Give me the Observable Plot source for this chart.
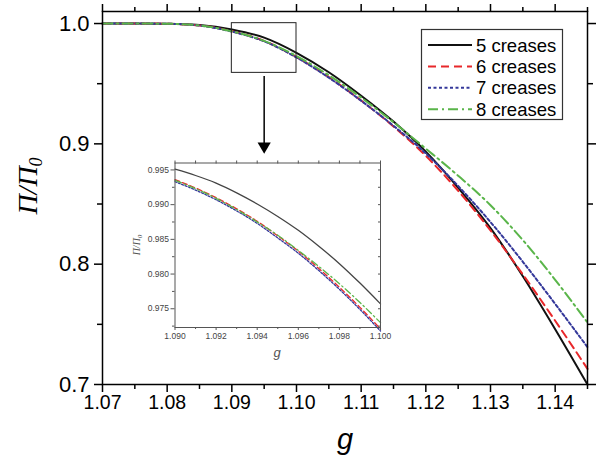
<!DOCTYPE html>
<html><head><meta charset="utf-8">
<script src="https://cdn.jsdelivr.net/npm/d3@7"></script>
<script src="https://cdn.jsdelivr.net/npm/@observablehq/plot@0.6"></script>
<style>
body{margin:0;background:#fff}
#wrap{position:relative;width:602px;height:463px;overflow:hidden}
#wrap svg{position:absolute;left:0;top:0;background:transparent}
</style></head><body><div id="wrap"></div>
<script>
// ---- data ----
const seriesNames = ["5 creases", "6 creases", "7 creases", "8 creases"];
const gMain = [1.070, 1.075, 1.080, 1.085, 1.090, 1.095, 1.100, 1.105, 1.110, 1.115, 1.120, 1.125, 1.130, 1.135, 1.140, 1.145];
const main5 = [1.0, 1.0, 0.9999, 0.9988, 0.9951, 0.9883, 0.9757, 0.9595, 0.9400, 0.9185, 0.8935, 0.8635, 0.8300, 0.7900, 0.7460, 0.7000];
const main6 = [1.0, 1.0, 0.9998, 0.9984, 0.9936, 0.9855, 0.9721, 0.9555, 0.9360, 0.9145, 0.8900, 0.8610, 0.8280, 0.7915, 0.7530, 0.7130];
const main7 = [1.0, 1.0, 0.9998, 0.9983, 0.9933, 0.9852, 0.9718, 0.9550, 0.9358, 0.9150, 0.8920, 0.8650, 0.8350, 0.8020, 0.7670, 0.7310];
const main8 = [1.0, 1.0, 0.9998, 0.9984, 0.9935, 0.9856, 0.9730, 0.9570, 0.9385, 0.9180, 0.8960, 0.8735, 0.8490, 0.8200, 0.7870, 0.7515];

const gInset = [1.090, 1.091, 1.092, 1.093, 1.094, 1.095, 1.096, 1.097, 1.098, 1.099, 1.100];
const ins5 = [0.9951, 0.9942, 0.9931, 0.9917, 0.9901, 0.9883, 0.9863, 0.9840, 0.9815, 0.9787, 0.9757];
const ins6 = [0.9936, 0.9924, 0.9910, 0.9894, 0.9876, 0.9855, 0.9833, 0.9808, 0.9781, 0.9752, 0.9721];
const ins7 = [0.9933, 0.9921, 0.9907, 0.9891, 0.9873, 0.9852, 0.9830, 0.9805, 0.9778, 0.9749, 0.9718];
const ins8 = [0.9935, 0.9923, 0.9909, 0.9893, 0.9875, 0.9856, 0.9834, 0.9811, 0.9786, 0.9759, 0.9730];

const xTicks = [1.07, 1.08, 1.09, 1.10, 1.11, 1.12, 1.13, 1.14];
const xMinor = [1.075, 1.085, 1.095, 1.105, 1.115, 1.125, 1.135, 1.145];
const yTicks = [0.7, 0.8, 0.9, 1.0];
const yMinor = [0.75, 0.85, 0.95];
const insXTicks = [1.090, 1.092, 1.094, 1.096, 1.098, 1.100];
const insXMinor = [1.091, 1.093, 1.095, 1.097, 1.099];
const insYTicks = [0.975, 0.980, 0.985, 0.990, 0.995];
const insYMinor = [0.9725, 0.9775, 0.9825, 0.9875, 0.9925];

const zoomBox = [{x1: 1.09, x2: 1.10, y1: 0.959, y2: 1.0003}];
const arrowSpec = [{x: 1.095, y1: 0.951, y2: 0.8918}];

const xTitle = "g";
const yTitleMain = "Π/Π";
const yTitleSub = "0";

// ---- styles ----
const colors = ["#111111", "#e8282b", "#34389a", "#5ab54a"];
const dashes = [null, "8,5", "3,2.5", "10,4,2,4"];
const insDashes = [null, "5,3", "2,1.6", "7,3,1.5,3"];

const mainVals = [main5, main6, main7, main8];
const insVals = [ins5, ins6, ins7, ins8];
const mainRows = seriesNames.map((s, i) => gMain.map((g, j) => ({g, v: mainVals[i][j], s})));
const insRows = seriesNames.map((s, i) => gInset.map((g, j) => ({g, v: insVals[i][j], s})));

const font = "'Liberation Sans', Arial, sans-serif";
const wrap = document.getElementById("wrap");

const main = Plot.plot({
  width: 602, height: 463,
  marginLeft: 102, marginRight: 15, marginTop: 11, marginBottom: 79,
  style: {fontFamily: font, background: "transparent", color: "#000", overflow: "visible"},
  x: {domain: [1.07, 1.145]},
  y: {domain: [0.7, 1.01]},
  marks: [
    ...mainRows.map((rows, i) => Plot.line(rows, {x: "g", y: "v", stroke: colors[i], strokeWidth: 2, strokeDasharray: dashes[i], curve: "monotone-x"})),
    Plot.rect(zoomBox, {x1: "x1", x2: "x2", y1: "y1", y2: "y2", fill: "none", stroke: "#222", strokeWidth: 1}),
    Plot.ruleX(arrowSpec, {x: "x", y1: "y1", y2: "y2", stroke: "#000", strokeWidth: 1.5, dy: -6}),
    Plot.dot(arrowSpec, {x: "x", y: "y2", symbol: "triangle", r: 4.9, rotate: 180, fill: "#000", stroke: "none", dy: -7.5}),
    Plot.frame({stroke: "#000", strokeWidth: 1.5}),
    Plot.axisX(xTicks, {tickSize: 8, tickPadding: 3, tickFormat: d3.format(".2f"), fontSize: 19.5, label: null, strokeWidth: 1.5}),
    Plot.axisX(xMinor, {tickSize: 5, tickFormat: () => "", label: null, strokeWidth: 1.5}),
    Plot.axisX(xTicks, {anchor: "top", tickSize: 8, tickFormat: () => "", label: null, strokeWidth: 1.5}),
    Plot.axisX(xMinor, {anchor: "top", tickSize: 5, tickFormat: () => "", label: null, strokeWidth: 1.5}),
    Plot.axisY(yTicks, {tickSize: 8, tickFormat: () => "", label: null, strokeWidth: 1.5}),
    Plot.text(yTicks, {y: d => d, frameAnchor: "left", dx: -13, textAnchor: "end", text: d3.format(".1f"), fontSize: 22, fill: "#000"}),
    Plot.axisY(yMinor, {tickSize: 5, tickFormat: () => "", label: null, strokeWidth: 1.5}),
    Plot.axisY(yTicks, {anchor: "right", tickSize: 8, tickFormat: () => "", label: null, strokeWidth: 1.5}),
    Plot.axisY(yMinor, {anchor: "right", tickSize: 5, tickFormat: () => "", label: null, strokeWidth: 1.5})
  ]
});
wrap.appendChild(main);

const svg = d3.select(main);
// axis titles
svg.append("text").attr("x", 345).attr("y", 449).attr("text-anchor", "middle")
  .attr("font-family", font).attr("font-style", "italic").attr("font-size", 29).attr("fill", "#000").text(xTitle);
const yt = svg.append("text").attr("transform", "translate(37,186) rotate(-90)").attr("text-anchor", "middle")
  .attr("font-family", "'Liberation Serif', 'Times New Roman', serif").attr("font-style", "italic").attr("font-size", 28).attr("fill", "#000");
yt.append("tspan").text(yTitleMain);
yt.append("tspan").attr("font-size", 18).attr("dy", 5).text(yTitleSub);

// legend
const lg = svg.append("g").attr("font-family", font).attr("text-anchor", "start");
lg.append("rect").attr("x", 421.5).attr("y", 29.5).attr("width", 141).attr("height", 90)
  .attr("fill", "#fff").attr("stroke", "#333").attr("stroke-width", 1.2);
seriesNames.forEach((name, i) => {
  const cy = 45 + i * 21.4;
  lg.append("line").attr("x1", 428).attr("x2", 472).attr("y1", cy).attr("y2", cy)
    .attr("stroke", colors[i]).attr("stroke-width", 2).attr("stroke-dasharray", dashes[i]);
  lg.append("text").attr("x", 476).attr("y", cy).attr("dy", "0.36em").attr("text-anchor", "start")
    .attr("font-size", 18.5).attr("fill", "#000").text(name);
});

// ---- inset ----
const inset = Plot.plot({
  width: 270, height: 215,
  marginLeft: 54.5, marginRight: 10, marginTop: 12.5, marginBottom: 38,
  style: {fontFamily: font, background: "transparent", color: "#444", overflow: "visible"},
  x: {domain: [1.090, 1.100]},
  y: {domain: [0.9723, 0.9960]},
  marks: [
    Plot.frame({fill: "#fff", stroke: "none"}),
    ...insRows.map((rows, i) => Plot.line(rows, {x: "g", y: "v", stroke: i === 0 ? "#444" : colors[i], strokeWidth: 1.3, strokeDasharray: insDashes[i], curve: "monotone-x"})),
    Plot.frame({stroke: "#555", strokeWidth: 1}),
    Plot.axisX(insXTicks, {tickSize: 3, tickPadding: 2, tickFormat: d3.format(".3f"), fontSize: 8.5, label: null, stroke: "#555"}),
    Plot.axisX(insXMinor, {tickSize: 2, tickFormat: () => "", label: null, stroke: "#555"}),
    Plot.axisX(insXTicks.concat(insXMinor), {anchor: "top", tickSize: 3, tickFormat: () => "", label: null, stroke: "#555"}),
    Plot.axisY(insYTicks, {tickSize: 4, tickFormat: () => "", label: null, stroke: "#555"}),
    Plot.text(insYTicks, {y: d => d, frameAnchor: "left", dx: -6, textAnchor: "end", text: d3.format(".3f"), fontSize: 8.5, fill: "#444"}),
    Plot.axisY(insYMinor, {tickSize: 2.5, tickFormat: () => "", label: null, stroke: "#555"}),
    Plot.axisY(insYTicks.concat(insYMinor), {anchor: "right", tickSize: -3, tickFormat: () => "", label: null, stroke: "#555"})
  ]
});
inset.style.left = "120px";
inset.style.top = "150px";
wrap.appendChild(inset);
const isvg = d3.select(inset);
isvg.append("text").attr("x", 157).attr("y", 207).attr("text-anchor", "middle")
  .attr("font-family", font).attr("font-style", "italic").attr("font-size", 13).attr("fill", "#555").text(xTitle);
const iyt = isvg.append("text").attr("transform", "translate(20,95) rotate(-90)").attr("text-anchor", "middle")
  .attr("font-family", "'Liberation Serif', 'Times New Roman', serif").attr("font-style", "italic").attr("font-size", 10).attr("fill", "#555");
iyt.append("tspan").text(yTitleMain);
iyt.append("tspan").attr("font-size", 7).attr("dy", 2).text(yTitleSub);
</script>
</body></html>
